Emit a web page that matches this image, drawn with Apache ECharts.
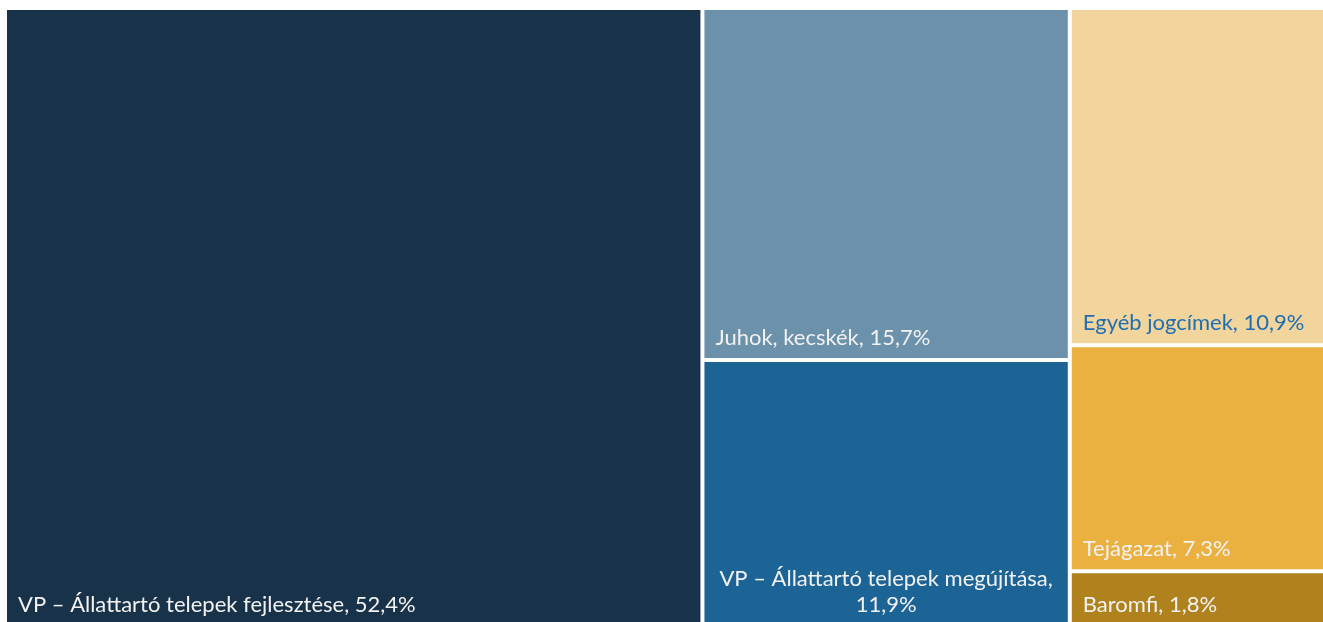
<!DOCTYPE html>
<html>
<head>
<meta charset="utf-8">
<script src="https://cdn.jsdelivr.net/npm/echarts@6/dist/echarts.min.js"></script>
<style>
  html, body { margin: 0; padding: 0; background: #fff; }
  #chart { width: 1323px; height: 622px; }
</style>
</head>
<body>
<div id="chart"></div>
<script>
var names = [
  'VP – Állattartó telepek fejlesztése',
  'Juhok, kecskék',
  'VP – Állattartó telepek megújítása',
  'Egyéb jogcímek',
  'Tejágazat',
  'Baromfi'
]
var values = [52.4, 15.7, 11.9, 10.9, 7.3, 1.8]
var colors = ['#18324a', '#6b91ab', '#1d6496', '#f2d49d', '#eab140', '#b0821e']
var labelColors = ['#f2f2f2', '#f2f2f2', '#f2f2f2', '#1f6fb0', '#f2f2f2', '#f2f2f2']

function fmtPct(v) {
  return v.toFixed(1).replace('.', ',') + '%'
}

var chart = echarts.init(document.getElementById('chart'))

var data = names.map(function (n, i) {
  var item = {
    name: n,
    value: values[i],
    itemStyle: { color: colors[i] },
    label: { color: labelColors[i] }
  }
  if (i === 2) {
    // this one is centred and wrapped onto two lines
    item.label.position = 'insideBottom'
    item.label.align = 'center'
    item.label.padding = [0, 4, 7, 4]
    item.label.formatter = function (p) {
      return p.name + ',\n' + fmtPct(p.value)
    }
  }
  return item
})

var option = {
  animation: false,
  series: [{
    type: 'treemap',
    left: 7,
    top: 10,
    right: -11,
    bottom: -3,
    roam: false,
    nodeClick: false,
    breadcrumb: { show: false },
    itemStyle: { borderColor: '#fff', borderWidth: 0, gapWidth: 4 },
    levels: [{ itemStyle: { borderWidth: 0, gapWidth: 4, borderColor: '#fff' } }],
    label: {
      show: true,
      position: 'insideBottomLeft',
      fontFamily: 'Lato',
      fontSize: 22,
      lineHeight: 26,
      padding: [0, 4, 7, 11],
      distance: 0,
      formatter: function (p) {
        return p.name + ', ' + fmtPct(p.value)
      }
    },
    data: data
  }]
}
chart.setOption(option)
</script>
</body>
</html>
